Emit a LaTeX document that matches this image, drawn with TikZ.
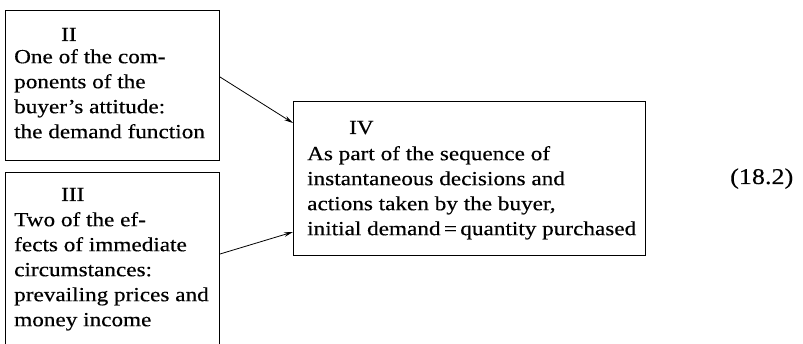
\documentclass[tikz,border=0pt]{standalone}
\usepackage{fontspec}
\setmainfont[FakeStretch=1.16, FakeBold=0.4]{Liberation Serif}
\usetikzlibrary{arrows.meta,calc}
\begin{document}
\begin{tikzpicture}[x=1pt,y=-1pt,
  boxed/.style={draw, line width=1pt, inner sep=0pt, anchor=north west},
  head/.style={anchor=base west, inner sep=0pt, font=\fontsize{20}{25}\selectfont},
  txt/.style={anchor=north west, inner sep=0pt, align=left, font=\fontsize{20}{25}\selectfont},
  arr/.style={line width=0.8pt, -{Stealth[length=9pt,width=4.5pt]}}]
\useasboundingbox (0,0) rectangle (803,344);
\clip (0,0) rectangle (803,344);
% boxes
\node[boxed, minimum width=214pt, minimum height=150pt] (b2) at (5,10) {};
\node[boxed, minimum width=214pt, minimum height=200pt] (b3) at (5,172) {};
\node[boxed, minimum width=352pt, minimum height=154pt] (b4) at (293,101) {};
% texts
\node[head] (h2) at (61,41) {II};
\node[txt] (t2) at (14,45.5) {\strut One of the com-\\ponents of the\\buyer’s attitude:\\the demand function};
\node[head] (h3) at (61,201) {III};
\node[txt] (t3) at (14,208.5) {\strut Two of the ef-\\fects of immediate\\circumstances:\\prevailing prices and\\money income};
\node[head] (h4) at (349,134) {IV};
\node[txt] (t4) at (307,142.5) {\strut As part of the sequence of\\instantaneous decisions and\\actions taken by the buyer,\\initial demand\,=\,quantity purchased};
\node[head, font=\fontsize{22.5}{27}\selectfont] (eq) at (730,184) {(18.2)};
% connectors
\coordinate (s2) at ($(b2.north east)+(0,67)$);
\coordinate (e2) at ($(b4.north west)+(0,22)$);
\coordinate (s3) at ($(b3.north east)+(0,82)$);
\coordinate (e3) at ($(b4.north west)+(0,131)$);
\draw[arr] (s2) -- (e2);
\draw[arr] (s3) -- (e3);
\end{tikzpicture}
\end{document}
